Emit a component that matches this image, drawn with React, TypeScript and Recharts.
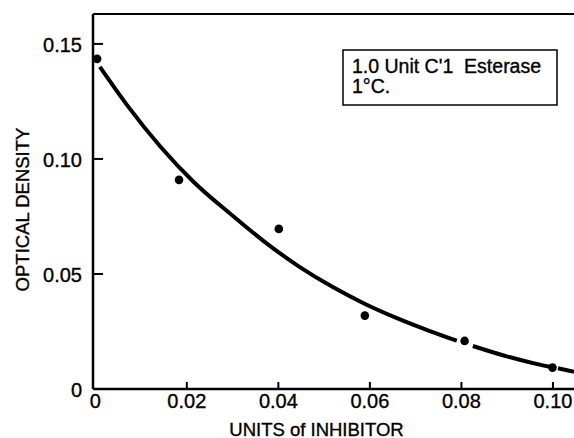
import React from 'react';
import { ComposedChart, Line, Scatter, XAxis, YAxis, ReferenceLine } from 'recharts';

// measured points (units of inhibitor vs optical density)
const pointX = [0.0004, 0.0183, 0.0401, 0.0589, 0.0807, 0.0999];
const pointY = [0.1435, 0.0909, 0.0696, 0.0319, 0.0209, 0.0093];

// fitted curve; nulls are the small breaks around the dots
const curveX = [0.001, 0.0069, 0.0143, 0.0215, 0.0301, 0.0375, 0.0447, 0.0519, 0.0585, 0.0659, 0.0731, 0.079, 0.0807, 0.0825, 0.0899, 0.0971, 0.0993, 0.1002, 0.1011, 0.1041, 0.1046];
const curveY = [0.14, 0.1235, 0.1052, 0.09, 0.0752, 0.0632, 0.053, 0.0443, 0.0374, 0.0308, 0.0252, 0.021, null, 0.0187, 0.0142, 0.0106, 0.0097, null, 0.009, 0.0077, 0.0075];

const xTicks = [0, 0.02, 0.04, 0.06, 0.08, 0.1];
const xTickLabels = ['0', '0.02', '0.04', '0.06', '0.08', '0.10'];
const yTicks = [0, 0.05, 0.1, 0.15];
const yTickLabels = ['0', '0.05', '0.10', '0.15'];

const xDomain = [-0.0005, 0.1046];
const yDomain = [0, 0.163];

const xTitle = 'UNITS of INHIBITOR';
const yTitle = 'OPTICAL DENSITY';
const noteLines = ["1.0 Unit C'1  Esterase", '1°C.'];

const points = pointX.map((x, i) => ({ x, y: pointY[i] }));
const curve = curveX.map((x, i) => ({ x, y: curveY[i] }));

const FONT = '"Liberation Sans", Arial, sans-serif';
const INK = '#000';
const txt = { fontFamily: FONT, fill: INK, stroke: INK, strokeWidth: 0.35 };

const XTick = (props: any) => {
  const { x, y, payload, index } = props;
  const i = xTicks.indexOf(payload.value);
  return (
    <g>
      {payload.value !== 0 && <line x1={x} y1={y} x2={x} y2={y - 7} stroke={INK} strokeWidth={2} />}
      <text x={x} y={y + 12} textAnchor="middle" dominantBaseline="central" fontSize={20} {...txt}>
        {xTickLabels[i >= 0 ? i : index]}
      </text>
    </g>
  );
};

const YTick = (props: any) => {
  const { x, y, payload, index } = props;
  const i = yTicks.indexOf(payload.value);
  return (
    <g>
      {payload.value !== 0 && <line x1={x} y1={y} x2={x + 10} y2={y} stroke={INK} strokeWidth={2} />}
      <text x={x - 11} y={y + 1} textAnchor="end" dominantBaseline="central" fontSize={20} {...txt}>
        {yTickLabels[i >= 0 ? i : index]}
      </text>
    </g>
  );
};

const XTitle = (props: any) => {
  const { x, y, width } = props.viewBox;
  return (
    <text x={x + width / 2 - 17} y={y + 40} textAnchor="middle" dominantBaseline="central" fontSize={18.5} {...txt}>
      {xTitle}
    </text>
  );
};

const YTitle = (props: any) => {
  const { x, y, height } = props.viewBox;
  const cx = x + 22;
  const cy = y + height / 2 + 8;
  return (
    <text x={cx} y={cy} transform={`rotate(-90, ${cx}, ${cy})`} textAnchor="middle" dominantBaseline="central" fontSize={18.5} {...txt}>
      {yTitle}
    </text>
  );
};

const Dot = (props: any) => <circle cx={props.cx} cy={props.cy} r={4.3} fill={INK} />;

export default function App() {
  return (
    <div style={{ position: 'absolute', left: 0, top: 0, width: 574, height: 438, background: '#fff' }}>
      <ComposedChart width={574} height={438} margin={{ top: 14, right: 0, bottom: 0, left: 0 }}>
        <XAxis
          type="number"
          dataKey="x"
          domain={xDomain}
          ticks={xTicks}
          allowDataOverflow
          height={49}
          tickSize={0}
          tickMargin={0}
          tickLine={false}
          tick={<XTick />}
          axisLine={{ stroke: INK, strokeWidth: 2.5 }}
          label={<XTitle />}
        />
        <YAxis
          type="number"
          dataKey="y"
          domain={yDomain}
          ticks={yTicks}
          allowDataOverflow
          width={93}
          tickSize={0}
          tickMargin={0}
          tickLine={false}
          tick={<YTick />}
          axisLine={{ stroke: INK, strokeWidth: 2.5 }}
          label={<YTitle />}
        />
        <ReferenceLine y={yDomain[1]} stroke={INK} strokeWidth={2} />
        <Line data={curve} dataKey="y" type="monotone" stroke={INK} strokeWidth={4} dot={false} activeDot={false} isAnimationActive={false} />
        <Scatter data={points} dataKey="y" fill={INK} shape={<Dot />} isAnimationActive={false} />
      </ComposedChart>
      <svg width={574} height={438} style={{ position: 'absolute', left: 0, top: 0, pointerEvents: 'none' }}>
        <rect x={343} y={50} width={214} height={55} fill="#fff" stroke={INK} strokeWidth={1.5} />
        {noteLines.map((t, i) => (
          <text key={i} x={352} y={73 + i * 20} fontSize={19.5} style={{ whiteSpace: 'pre' }} {...txt}>
            {t}
          </text>
        ))}
      </svg>
    </div>
  );
}
